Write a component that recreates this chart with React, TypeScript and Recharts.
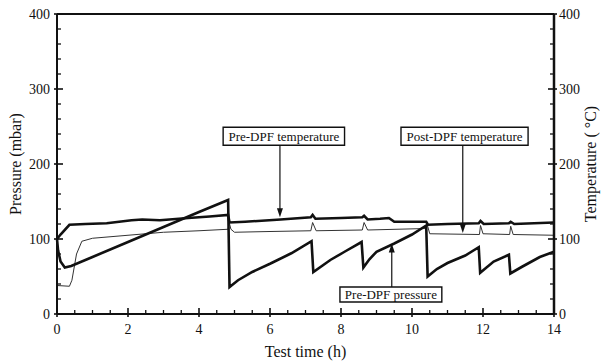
import { Line, LineChart, ReferenceArea, ReferenceLine, XAxis, YAxis } from "recharts";

type Pair = [number, number];

// test time (h) vs value
const preDpfTemperature: Pair[] = [
  [0, 100], [0.1, 106], [0.35, 119], [0.8, 120], [1.4, 121], [2.1, 125], [2.4, 126],
  [2.9, 125], [3.7, 128], [4.3, 130], [4.82, 132], [4.86, 122], [5.3, 123], [6.3, 126],
  [7.15, 129], [7.2, 132], [7.28, 127], [8.0, 128], [8.6, 129], [8.65, 131], [8.75, 126],
  [9.1, 127], [9.35, 128], [9.5, 123], [10.4, 123], [10.45, 119], [11.0, 120], [11.88, 121],
  [11.93, 124], [12.02, 120], [12.73, 121], [12.78, 123], [12.88, 120], [14, 122],
];

const postDpfTemperature: Pair[] = [
  [0, 38], [0.35, 37], [0.42, 45], [0.55, 80], [0.7, 97], [1.0, 101], [2.0, 105],
  [3.0, 109], [4.0, 111], [4.82, 113], [4.85, 122], [4.9, 113], [5.0, 109], [6.0, 110],
  [7.15, 111], [7.2, 122], [7.3, 111], [8.6, 112], [8.65, 122], [8.75, 112], [10.4, 114],
  [10.43, 119], [10.5, 107], [11.9, 106], [11.93, 118], [12.0, 107], [12.75, 106],
  [12.78, 117], [12.85, 106], [14, 105],
];

const preDpfPressure: Pair[] = [
  [0, 100], [0.03, 85], [0.1, 70], [0.22, 62], [0.4, 64], [1.0, 76], [2.0, 96], [3.0, 116],
  [4.0, 136], [4.82, 152], [4.86, 36], [5.1, 45], [5.5, 56], [6.0, 67], [6.6, 81],
  [7.17, 97], [7.22, 56], [7.7, 72], [8.1, 83], [8.58, 96], [8.63, 62], [8.8, 73],
  [9.0, 83], [9.5, 94], [10.0, 106], [10.4, 118], [10.44, 50], [10.7, 60], [11.0, 68],
  [11.5, 78], [11.88, 89], [11.92, 55], [12.3, 70], [12.73, 79], [12.77, 54], [13.1, 63],
  [13.6, 76], [14, 83],
];

// labelled ticks, plus the unlabelled minor ones in between
const timeTicks = [0, 2, 4, 6, 8, 10, 12, 14];
const allTimeTicks = [
  0, 0.5, 1, 1.5, 2, 2.5, 3, 3.5, 4, 4.5, 5, 5.5, 6, 6.5, 7, 7.5, 8, 8.5, 9, 9.5, 10,
  10.5, 11, 11.5, 12, 12.5, 13, 13.5, 14,
];
const valueTicks = [0, 100, 200, 300, 400];
const allValueTicks = [
  0, 20, 40, 60, 80, 100, 120, 140, 160, 180, 200, 220, 240, 260, 280, 300, 320, 340,
  360, 380, 400,
];

const toPoints = (pairs: Pair[]) => pairs.map(([t, v]) => ({ t, v }));

const FONT = "'Liberation Serif', 'Times New Roman', serif";
const INK = "#111";
const X_MARGIN = 10;
const L_MARGIN = 7;
const R_MARGIN = 5;

const XTick = (props: any) => {
  const { x, y, payload } = props;
  const major = timeTicks.includes(payload.value);
  const axisY = y - X_MARGIN;
  return (
    <g>
      <line
        x1={x}
        x2={x}
        y1={axisY + (major ? 3 : 0)}
        y2={axisY - (major ? 6 : 4)}
        stroke={INK}
        strokeWidth={major ? 1.6 : 1.3}
      />
      {major && (
        <text x={x} y={y} dy="0.71em" textAnchor="middle" fill={INK} fontSize={14} fontFamily={FONT}>
          {payload.value}
        </text>
      )}
    </g>
  );
};

const LeftTick = (props: any) => {
  const { x, y, payload } = props;
  const major = valueTicks.includes(payload.value);
  const axisX = x + L_MARGIN;
  return (
    <g>
      <line
        x1={axisX - (major ? 3 : 0)}
        x2={axisX + (major ? 6 : 4)}
        y1={y}
        y2={y}
        stroke={INK}
        strokeWidth={major ? 1.6 : 1.3}
      />
      {major && (
        <text x={x} y={y} dy="0.355em" textAnchor="end" fill={INK} fontSize={14} fontFamily={FONT}>
          {payload.value}
        </text>
      )}
    </g>
  );
};

const RightTick = (props: any) => {
  const { x, y, payload } = props;
  const major = valueTicks.includes(payload.value);
  const axisX = x - R_MARGIN;
  return (
    <g>
      <line
        x1={axisX + (major ? 3 : 0)}
        x2={axisX - (major ? 6 : 4)}
        y1={y}
        y2={y}
        stroke={INK}
        strokeWidth={major ? 1.6 : 1.3}
      />
      {major && (
        <text x={x} y={y} dy="0.355em" textAnchor="start" fill={INK} fontSize={14} fontFamily={FONT}>
          {payload.value}
        </text>
      )}
    </g>
  );
};

// vertical arrow, head at the second point
const Arrow = (props: any) => {
  const { x1, y1, x2, y2 } = props;
  const dir = y2 > y1 ? 1 : -1;
  return (
    <g>
      <line x1={x1} y1={y1} x2={x2} y2={y2 - dir * 6} stroke={INK} strokeWidth={1.2} />
      <path
        d={`M${x2},${y2} L${x2 - 3},${y2 - dir * 9} L${x2 + 3},${y2 - dir * 9} Z`}
        fill={INK}
      />
    </g>
  );
};

const boxLabel = (value: string) => ({
  value,
  position: "center" as const,
  fill: INK,
  fontSize: 13,
  fontFamily: FONT,
});

export default function App() {
  return (
    <div style={{ fontFamily: FONT, width: 602, height: 362 }}>
      <style>{"body{margin:0}"}</style>
      <LineChart width={602} height={362} margin={{ top: 14, right: 0, bottom: 0, left: 0 }}>
        <XAxis
          xAxisId="time"
          type="number"
          dataKey="t"
          domain={[0, 14]}
          ticks={allTimeTicks}
          interval={0}
          tickSize={0}
          tickMargin={X_MARGIN}
          height={48}
          axisLine={{ stroke: INK, strokeWidth: 2 }}
          tickLine={false}
          tick={XTick}
          label={{
            value: "Test time (h)",
            position: "insideBottom",
            offset: 5,
            fill: INK,
            fontSize: 16,
            fontFamily: FONT,
          }}
        />
        <YAxis
          yAxisId="p"
          orientation="left"
          type="number"
          domain={[0, 400]}
          ticks={allValueTicks}
          interval={0}
          tickSize={0}
          tickMargin={L_MARGIN}
          width={57}
          axisLine={{ stroke: INK, strokeWidth: 2 }}
          tickLine={false}
          tick={LeftTick}
          label={{
            value: "Pressure (mbar)",
            angle: -90,
            position: "insideLeft",
            offset: 15,
            fill: INK,
            fontSize: 16,
            fontFamily: FONT,
            style: { textAnchor: "middle" },
          }}
        />
        <YAxis
          yAxisId="T"
          orientation="right"
          type="number"
          domain={[0, 400]}
          ticks={allValueTicks}
          interval={0}
          tickSize={0}
          tickMargin={R_MARGIN}
          width={48}
          axisLine={{ stroke: INK, strokeWidth: 2.5 }}
          tickLine={false}
          tick={RightTick}
          label={{
            value: "Temperature ( °C)",
            angle: -90,
            position: "insideRight",
            offset: 12,
            fill: INK,
            fontSize: 16,
            fontFamily: FONT,
            style: { textAnchor: "middle" },
          }}
        />

        <ReferenceLine xAxisId="time" yAxisId="p" y={400} stroke={INK} strokeWidth={2} />

        <Line
          xAxisId="time"
          yAxisId="T"
          data={toPoints(postDpfTemperature)}
          dataKey="v"
          name="Post-DPF temperature"
          type="linear"
          stroke="#333"
          strokeWidth={1}
          dot={false}
          isAnimationActive={false}
        />
        <Line
          xAxisId="time"
          yAxisId="T"
          data={toPoints(preDpfTemperature)}
          dataKey="v"
          name="Pre-DPF temperature"
          type="linear"
          stroke={INK}
          strokeWidth={2.6}
          dot={false}
          isAnimationActive={false}
        />
        <Line
          xAxisId="time"
          yAxisId="p"
          data={toPoints(preDpfPressure)}
          dataKey="v"
          name="Pre-DPF pressure"
          type="linear"
          stroke={INK}
          strokeWidth={2.6}
          dot={false}
          isAnimationActive={false}
        />

        <ReferenceArea
          xAxisId="time"
          yAxisId="p"
          x1={4.68}
          x2={8.1}
          y1={225}
          y2={249}
          fill="#fff"
          fillOpacity={1}
          stroke={INK}
          strokeWidth={1.4}
          label={boxLabel("Pre-DPF temperature")}
        />
        <ReferenceLine
          xAxisId="time"
          yAxisId="p"
          segment={[{ x: 6.28, y: 225 }, { x: 6.28, y: 129 }]}
          shape={Arrow}
        />
        <ReferenceArea
          xAxisId="time"
          yAxisId="p"
          x1={9.69}
          x2={13.27}
          y1={225}
          y2={249}
          fill="#fff"
          fillOpacity={1}
          stroke={INK}
          strokeWidth={1.4}
          label={boxLabel("Post-DPF temperature")}
        />
        <ReferenceLine
          xAxisId="time"
          yAxisId="p"
          segment={[{ x: 11.43, y: 225 }, { x: 11.43, y: 108 }]}
          shape={Arrow}
        />
        <ReferenceArea
          xAxisId="time"
          yAxisId="p"
          x1={7.97}
          x2={10.84}
          y1={16}
          y2={36}
          fill="#fff"
          fillOpacity={1}
          stroke={INK}
          strokeWidth={1.4}
          label={boxLabel("Pre-DPF pressure")}
        />
        <ReferenceLine
          xAxisId="time"
          yAxisId="p"
          segment={[{ x: 9.43, y: 36 }, { x: 9.43, y: 94 }]}
          shape={Arrow}
        />
      </LineChart>
    </div>
  );
}
